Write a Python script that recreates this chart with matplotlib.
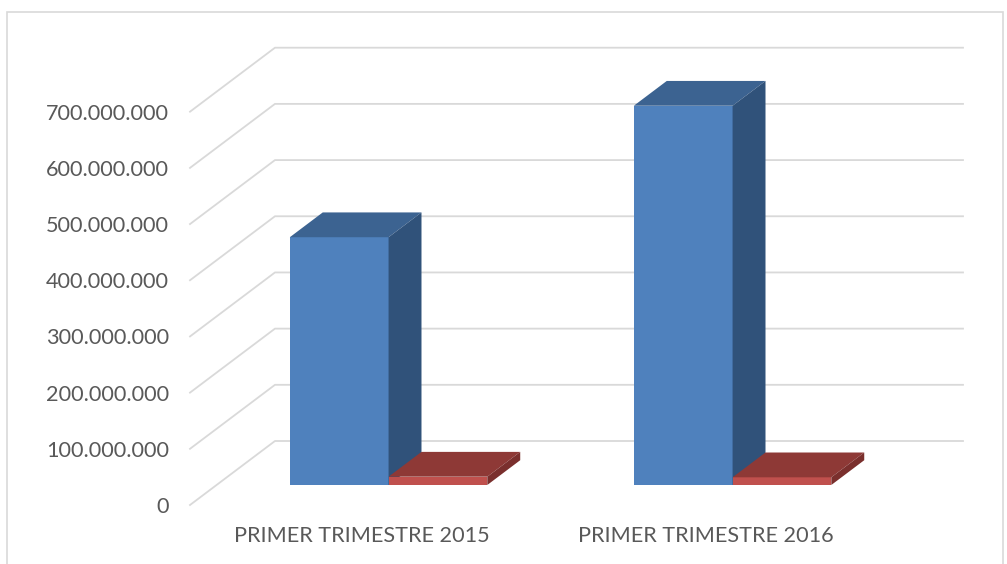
import matplotlib
matplotlib.use('Agg')
import matplotlib.pyplot as plt
from matplotlib.patches import Polygon, Rectangle

matplotlib.rcParams['font.family'] = 'Lato'
matplotlib.rcParams['font.size'] = 15.6

categories = ['PRIMER TRIMESTRE 2015', 'PRIMER TRIMESTRE 2016']
serie_azul = [441_000_000, 675_000_000]
serie_roja = [14_800_000, 13_700_000]
yticks = [0, 100_000_000, 200_000_000, 300_000_000, 400_000_000,
          500_000_000, 600_000_000, 700_000_000]

# colores (frente, arriba, lado)
azul = ('#4F81BD', '#3C6391', '#30527A')
rojo = ('#C0504D', '#8E3936', '#7A2F2D')
gris = '#D9D9D9'

# profundidad del "3D" en unidades de datos
dx = 0.247
dy = 113_900_000
f0, f1 = 0.3125, 0.70   # posicion de la barra dentro de la profundidad
ancho = 0.287

W, H = 1007, 564
fig = plt.figure(figsize=(W / 100, H / 100), dpi=100)
ax = fig.add_axes([190 / W, 1 - 505 / H, (963 - 190) / W, (505 - 47.7) / H])
ax.set_xlim(0, len(categories) + dx)
ax.set_ylim(0, yticks[-1] + dy)

# borde exterior
fig.patches.append(Rectangle((7 / W, -0.05), (1003 - 7) / W, 1.05 - 12 / H,
                             transform=fig.transFigure, fill=False,
                             edgecolor=gris, linewidth=1.2))

# rejilla: diagonal del piso lateral + linea de la pared del fondo
for v in yticks:
    ax.plot([0, dx, len(categories) + dx], [v, v + dy, v + dy],
            color=gris, linewidth=1.3, zorder=1, clip_on=False)


def barra(x0, x1, valor, colores):
    frente, arriba, lado = colores
    a = (x0 + f0 * dx, f0 * dy)
    b = (x1 + f0 * dx, f0 * dy)
    ax.add_patch(Polygon([a, b, (b[0], b[1] + valor), (a[0], a[1] + valor)],
                         closed=True, facecolor=frente, edgecolor='none', zorder=3))
    ax.add_patch(Polygon([(a[0], a[1] + valor), (b[0], b[1] + valor),
                          (x1 + f1 * dx, f1 * dy + valor), (x0 + f1 * dx, f1 * dy + valor)],
                         closed=True, facecolor=arriba, edgecolor='none', zorder=3))
    ax.add_patch(Polygon([b, (x1 + f1 * dx, f1 * dy), (x1 + f1 * dx, f1 * dy + valor),
                          (b[0], b[1] + valor)],
                         closed=True, facecolor=lado, edgecolor='none', zorder=3))


for i in range(len(categories)):
    c = i + 0.5
    barra(c - ancho, c, serie_azul[i], azul)
    barra(c, c + ancho, serie_roja[i], rojo)

for s in ax.spines.values():
    s.set_visible(False)
ax.set_yticks(yticks)
ax.set_yticklabels([f'{v:,}'.replace(',', '.') for v in yticks])
ax.set_xticks([i + 0.5 for i in range(len(categories))])
ax.set_xticklabels(categories)
ax.tick_params(length=0, colors='#595959')
ax.tick_params(axis='y', pad=15)
ax.tick_params(axis='x', pad=15)

fig.savefig('out.png', dpi=100)
